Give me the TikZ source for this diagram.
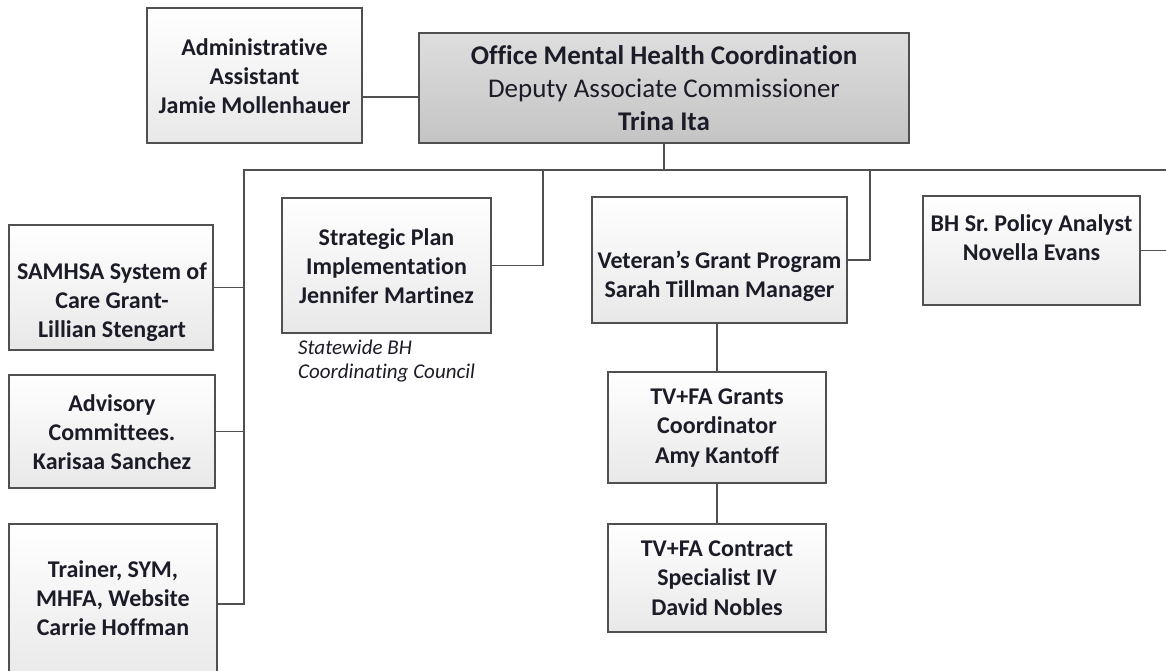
\documentclass[tikz,border=0pt]{standalone}
\usepackage{fontspec}
\setmainfont{Carlito}[Ligatures=NoCommon]
\definecolor{boxline}{HTML}{505050}
\definecolor{boxbot}{HTML}{E8E8E8}
\definecolor{offtop}{HTML}{DEDEDE}
\definecolor{offbot}{HTML}{C4C4C4}
\definecolor{ink}{HTML}{1C1C28}
\frenchspacing
\begin{document}
\begin{tikzpicture}[x=1pt,y=-1pt,
  box/.style={draw=boxline, line width=1.8pt, top color=white, bottom color=boxbot, shape=rectangle, inner sep=0pt},
  officebox/.style={draw=boxline, line width=1.8pt, top color=offtop, bottom color=offbot, shape=rectangle, inner sep=0pt},
  txt/.style={align=center, text=ink, inner sep=0pt, font=\bfseries\fontsize{24}{29.3}\selectfont},
  conn/.style={draw=boxline, line width=1.6pt}]
\useasboundingbox (0,0) rectangle (1166,671);
\clip (0,0) rectangle (1166,671);
\fill[white] (0,0) rectangle (1166,671);

% boxes
\node[box, minimum width=215pt, minimum height=135pt] (admin) at (254.5,75.5) {};
\node[officebox, minimum width=490pt, minimum height=110pt] (office) at (664,88) {};
\node[box, minimum width=204pt, minimum height=125pt] (samhsa) at (111,287.5) {};
\node[box, minimum width=206pt, minimum height=113pt] (advisory) at (112,431.5) {};
\node[box, minimum width=208pt, minimum height=160pt] (trainer) at (113,604) {};
\node[box, minimum width=209pt, minimum height=135pt] (strategic) at (386.5,265.5) {};
\node[box, minimum width=255pt, minimum height=126pt] (veteran) at (719.5,260) {};
\node[box, minimum width=217pt, minimum height=109pt] (bh) at (1031.5,250.5) {};
\node[box, minimum width=218pt, minimum height=111pt] (grants) at (717,427.5) {};
\node[box, minimum width=218pt, minimum height=108pt] (contract) at (717,578) {};

% texts
\node[txt] (admint) at (254.5,76) {Administrative\\Assistant\\Jamie Mollenhauer};
\node[txt, font=\bfseries\fontsize{27}{33}\selectfont] (officet) at (664,88.5) {Office Mental Health Coordination\\{\mdseries Deputy Associate Commissioner}\\Trina Ita};
\node[txt] (samhsat) at (112,302) {SAMHSA System of\\Care Grant-\\Lillian Stengart};
\node[txt] (advisoryt) at (112,432) {Advisory\\Committees.\\Karisaa Sanchez};
\node[txt] (trainert) at (113,598) {Trainer, SYM,\\MHFA, Website\\Carrie Hoffman};
\node[txt] (strategict) at (386.5,266) {Strategic Plan\\Implementation\\Jennifer Martinez};
\node[txt] (venterant) at (719.5,276) {Veteran’s Grant Program\\Sarah Tillman Manager};
\node[txt] (bht) at (1031.5,238) {BH Sr. Policy Analyst\\Novella Evans};
\node[txt] (grantst) at (717,428) {TV+FA Grants\\Coordinator\\Amy Kantoff};
\node[txt] (contractt) at (717,578) {TV+FA Contract\\Specialist IV\\David Nobles};
\node[anchor=west, align=left, text=ink, inner sep=0pt, font=\itshape\fontsize{21}{24}\selectfont] (council) at (298,361) {Statewide BH\\Coordinating Council};

% connectors
\coordinate (busL) at (244,170);
\coordinate (busR) at (1170,170);
\coordinate (sj) at (543,170);
\coordinate (vj) at (870,170);
\draw[conn] (admin.east |- 0,97) -- (office.west |- 0,97);
\draw[conn] (office.south) -- (office.south |- busL);
\draw[conn] (busR) -- (busL) -- (busL |- trainer.east) -- (trainer.east);
\draw[conn] (samhsa.east) -- (samhsa.east -| busL);
\draw[conn] (advisory.east) -- (advisory.east -| busL);
\draw[conn] (strategic.east) -| (sj);
\draw[conn] (veteran.east) -| (vj);
\draw[conn] (bh.east) -- (bh.east -| busR);
\draw[conn] (grants.north |- veteran.south) -- (grants.north);
\draw[conn] (grants.south) -- (contract.north);
\end{tikzpicture}
\end{document}
